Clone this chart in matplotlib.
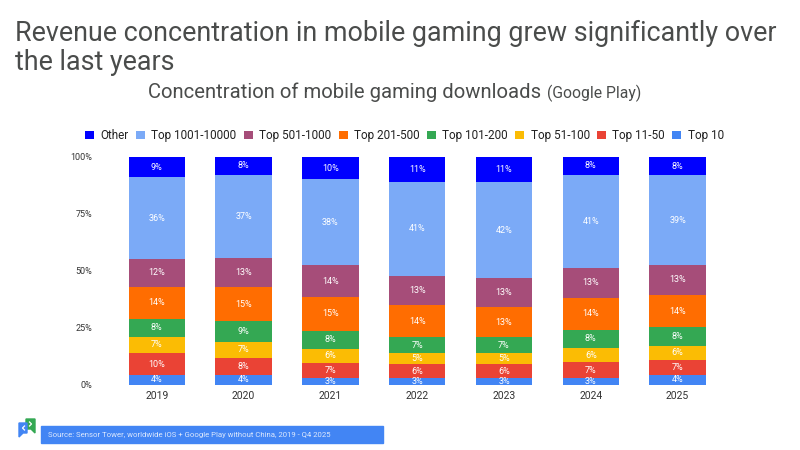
import matplotlib
matplotlib.use('Agg')
import matplotlib.pyplot as plt
import numpy as np
from matplotlib.patches import Polygon, Rectangle

plt.rcParams['font.family'] = ['Roboto', 'DejaVu Sans']

years = ['2019', '2020', '2021', '2022', '2023', '2024', '2025']
tiers = ['Top 10', 'Top 11-50', 'Top 51-100', 'Top 101-200', 'Top 201-500',
         'Top 501-1000', 'Top 1001-10000', 'Other']
colors = ['#4285f4', '#ea4335', '#fbbc04', '#34a853', '#ff6d01',
          '#a64d79', '#7baaf7', '#0000ff']

# shares per tier, bottom of the stack first
top10 = [4.0, 4.0, 2.9, 2.9, 2.9, 2.9, 4.0]
top50 = [10.0, 7.8, 6.6, 5.9, 5.9, 6.9, 6.9]
top100 = [7.0, 6.9, 6.2, 5.1, 5.0, 6.2, 6.2]
top200 = [7.8, 9.0, 7.9, 6.9, 7.0, 8.1, 8.1]
top500 = [14.1, 15.2, 14.8, 14.0, 13.2, 14.0, 14.2]
top1000 = [12.3, 12.6, 14.1, 13.1, 12.8, 13.1, 13.2]
top10000 = [35.8, 36.6, 37.7, 41.0, 42.2, 40.9, 39.4]
other = [9.0, 7.9, 9.8, 11.0, 11.0, 7.9, 8.0]
shares = [top10, top50, top100, top200, top500, top1000, top10000, other]

fig = plt.figure(figsize=(8, 4.5), dpi=100)
ax = fig.add_axes([113.4 / 800, 1 - 384.5 / 450, 607.6 / 800, 227.5 / 450])

bottom = np.zeros(len(years))
x = np.arange(len(years))
for name, vals, col in zip(tiers, shares, colors):
    vals = np.array(vals)
    ax.bar(x, vals, 0.65, bottom=bottom, color=col, label=name)
    for xi, b, v in zip(x, bottom, vals):
        ax.text(xi, b + v / 2, f'{v:.0f}%', color='white', fontsize=6.5,
                ha='center', va='center')
    bottom += vals

ax.set_xlim(-0.5, 6.5)
ax.set_ylim(0, 100)
ax.set_xticks(x, years)
ax.set_yticks([0, 25, 50, 75, 100], ['0%', '25%', '50%', '75%', '100%'])
ax.tick_params(length=0, colors='#333333')
ax.tick_params(axis='x', labelsize=7.5, pad=5)
ax.tick_params(axis='y', labelsize=6.5, pad=15)
for s in ax.spines.values():
    s.set_visible(False)

# legend runs from the top of the stack down
h, l = ax.get_legend_handles_labels()
fig.legend(h[::-1], l[::-1], ncol=8, loc='center', bbox_to_anchor=(404.5 / 800, 1 - 135.5 / 450),
           frameon=False, fontsize=8.5, handlelength=0.75, handleheight=0.75,
           handletextpad=0.55, columnspacing=0.62, labelcolor='#222222')

fig.text(15 / 800, 1 - 33 / 450, 'Revenue concentration in mobile gaming grew significantly over',
         fontsize=19.4, color='#4a4c4b', va='center')
fig.text(15 / 800, 1 - 62 / 450, 'the last years', fontsize=19.4, color='#4a4c4b', va='center')
fig.text(148 / 800, 1 - 92 / 450, 'Concentration of mobile gaming downloads', fontsize=14.6,
         color='#4a4c4b', va='center')
fig.text(547 / 800, 1 - 93 / 450, '(Google Play)', fontsize=11.3, color='#4a4c4b', va='center')

# source bar and logo in pixel coordinates
over = fig.add_axes([0, 0, 1, 1], facecolor='none')
over.set_xlim(0, 800)
over.set_ylim(450, 0)
over.axis('off')
over.add_patch(Rectangle((41, 426), 342, 17, color='#4285f4'))
over.text(48.5, 435, 'Source: Sensor Tower, worldwide iOS + Google Play without China, 2019 - Q4 2025',
          color='#dce8fd', fontsize=5.6, va='center')
over.add_patch(Polygon([(26, 419), (35, 419), (35, 433), (31, 429), (26, 429)],
                       color='#34a853', zorder=2))
over.add_patch(Polygon([(19, 423), (27, 423), (27, 433), (23, 433), (19, 437)],
                       color='#4285f4', zorder=3))
over.plot([24.5, 22.5, 24.5], [426, 428, 430], color='white', lw=0.9, zorder=4)
over.plot([29.5, 31.5, 29.5], [422, 424, 426], color='white', lw=0.9, zorder=4)

fig.savefig('out.png', dpi=100)
